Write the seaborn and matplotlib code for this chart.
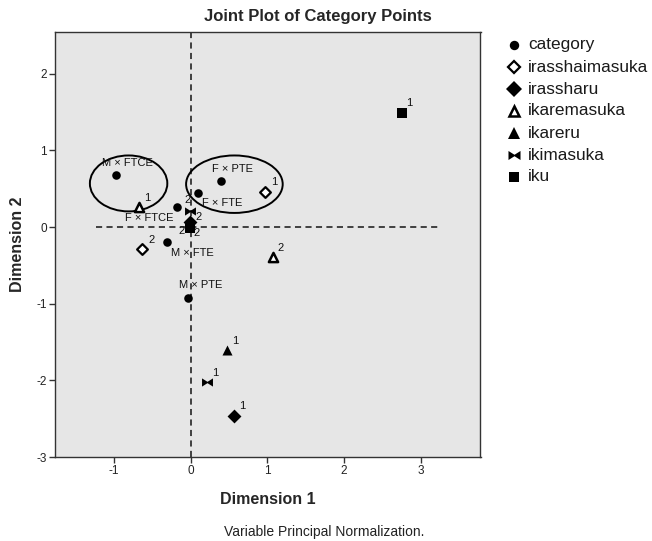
import matplotlib
matplotlib.use("Agg")
import matplotlib.pyplot as plt
from matplotlib.patches import Ellipse
from matplotlib.lines import Line2D
from matplotlib.path import Path
import pandas as pd
import seaborn as sns

# Category points (Dimension 1, Dimension 2) with their labels
category_labels = ["M × FTCE", "F × PTE", "F × FTE", "F × FTCE", "M × FTE", "M × PTE"]
category_dim1 = [-0.98, 0.39, 0.10, -0.18, -0.31, -0.04]
category_dim2 = [0.68, 0.60, 0.45, 0.26, -0.20, -0.92]

# Variable category points: level "1" and level "2" of each variable
variables = ["irasshaimasuka", "irassharu", "ikaremasuka", "ikareru", "ikimasuka", "iku"]
level1_dim1 = [0.97, 0.57, -0.67, 0.47, 0.21, 2.75]
level1_dim2 = [0.46, -2.47, 0.26, -1.60, -2.02, 1.49]
level2_dim1 = [-0.64, -0.01, 1.07, -0.01, -0.01, -0.01]
level2_dim2 = [-0.29, 0.07, -0.39, 0.04, 0.21, -0.01]
level_names = ["1", "2"]

# Ellipses grouping category points: center x, center y, width, height
ellipse_cx = [-0.81, 0.57]
ellipse_cy = [0.57, 0.56]
ellipse_w = [1.01, 1.26]
ellipse_h = [0.73, 0.75]

sns.set_style("white")
plt.rcParams["font.family"] = ["Liberation Sans", "DejaVu Sans"]

bowtie = Path(
    [(-1, -0.75), (-1, 0.75), (0, 0.12), (1, 0.75), (1, -0.75), (0, -0.12), (-1, -0.75)],
    [Path.MOVETO, Path.LINETO, Path.LINETO, Path.LINETO, Path.LINETO, Path.LINETO, Path.CLOSEPOLY],
)

# marker, face colour, size, edge width
styles = {
    "category": ("o", "black", 38, 0.0),
    "irasshaimasuka": ("D", "white", 30, 1.6),
    "irassharu": ("D", "black", 50, 0.0),
    "ikaremasuka": ("^", "white", 44, 1.8),
    "ikareru": ("^", "black", 52, 0.0),
    "ikimasuka": (bowtie, "black", 62, 0.0),
    "iku": ("s", "black", 46, 0.0),
}

W, H = 652, 541
fig = plt.figure(figsize=(W / 100, H / 100), dpi=100)
ax = fig.add_axes([55 / W, 1 - 457 / H, (480.5 - 55) / W, (457 - 31.7) / H])
ax.set_facecolor("#e6e6e6")
ax.set_xlim(-1.77, 3.78)
ax.set_ylim(-3.0, 2.55)

# Reference crosshair through the origin
dash = (0, (3.4, 2.4))
ax.plot([-1.23, 3.23], [0, 0], color="#333333", lw=1.3, linestyle=dash, zorder=1)
ax.axvline(0, color="#333333", lw=1.3, linestyle=dash, zorder=1)

cat_df = pd.DataFrame({"dim1": category_dim1, "dim2": category_dim2, "label": category_labels})
m, fc, s, lw = styles["category"]
sns.scatterplot(data=cat_df, x="dim1", y="dim2", marker=m, color=fc, s=s,
                linewidth=lw, edgecolor="black", legend=False, ax=ax, zorder=3)

rows = []
for i, v in enumerate(variables):
    rows.append({"variable": v, "level": level_names[0], "dim1": level1_dim1[i], "dim2": level1_dim2[i]})
    rows.append({"variable": v, "level": level_names[1], "dim1": level2_dim1[i], "dim2": level2_dim2[i]})
var_df = pd.DataFrame(rows)

for v in variables:
    m, fc, s, lw = styles[v]
    sub = var_df[var_df["variable"] == v]
    sns.scatterplot(data=sub, x="dim1", y="dim2", marker=m, color=fc, s=s,
                    linewidth=lw, edgecolor="black", legend=False, ax=ax, zorder=3)

# Category point labels (offsets in pixels)
cat_offsets = [(12, 12), (12, 12.5), (24, -10.5), (-28, -10.5), (25, -11), (13, 13)]
for lab, x, y, off in zip(category_labels, category_dim1, category_dim2, cat_offsets):
    ax.annotate(lab, (x, y), xytext=off, textcoords="offset pixels",
                ha="center", va="center", fontsize=8, color="#111111", zorder=4)

# Level labels next to variable points
level_offsets = {
    ("irasshaimasuka", "1"): (9, 10), ("irasshaimasuka", "2"): (10, 9),
    ("irassharu", "1"): (8, 10), ("irassharu", "2"): (9, 5),
    ("ikaremasuka", "1"): (7.5, 9), ("ikaremasuka", "2"): (7.5, 9),
    ("ikareru", "1"): (8, 9), ("ikareru", "2"): (-8, -7),
    ("ikimasuka", "1"): (8, 9), ("ikimasuka", "2"): (-2, 11),
    ("iku", "1"): (7.5, 9.5), ("iku", "2"): (7, -5),
}
for _, r in var_df.iterrows():
    off = level_offsets[(r["variable"], r["level"])]
    ax.annotate(r["level"], (r["dim1"], r["dim2"]), xytext=off, textcoords="offset pixels",
                ha="center", va="center", fontsize=8, color="#111111", zorder=4)

for cx, cy, w, h in zip(ellipse_cx, ellipse_cy, ellipse_w, ellipse_h):
    ax.add_patch(Ellipse((cx, cy), w, h, fill=False, edgecolor="black", lw=1.4, zorder=2))

ax.set_xticks([-1, 0, 1, 2, 3])
ax.set_yticks([-3, -2, -1, 0, 1, 2])
ax.set_xticklabels(["-1", "0", "1", "2", "3"])
ax.set_yticklabels(["-3", "-2", "-1", "0", "1", "2"])
ax.tick_params(direction="out", length=4, width=1, color="#333333",
               labelsize=8.5, labelcolor="#222222", pad=2, bottom=True, left=True)
for sp in ax.spines.values():
    sp.set_visible(True)
    sp.set_color("#333333")
    sp.set_linewidth(1)
ax.set_xlabel("")
ax.set_ylabel("")

fig.text(318 / W, 1 - 16.5 / H, "Joint Plot of Category Points", ha="center", va="center",
         fontsize=12, fontweight="bold")
fig.text(267.5 / W, 1 - 499 / H, "Dimension 1", ha="center", va="center",
         fontsize=11.5, fontweight="bold")
fig.text(18 / W, 1 - 244 / H, "Dimension 2", ha="center", va="center",
         fontsize=11.5, fontweight="bold", rotation=90)
fig.text(324 / W, 1 - 532 / H, "Variable Principal Normalization.", ha="center", va="center",
         fontsize=10, color="#222222")

# Legend
legend_labels = ["category"] + variables
for i, lab in enumerate(legend_labels):
    m, fc, s, lw = styles[lab]
    ypx = 45 + 22 * i
    fig.add_artist(Line2D([514 / W], [1 - ypx / H], transform=fig.transFigure,
                          marker=m, markersize=(s ** 0.5) * 1.1, markerfacecolor=fc,
                          markeredgecolor="black", markeredgewidth=lw, linestyle="none"))
    fig.text(528 / W, 1 - ypx / H, lab, ha="left", va="center", fontsize=12.4, color="#1a1a1a")

fig.savefig("out.png", dpi=100)
